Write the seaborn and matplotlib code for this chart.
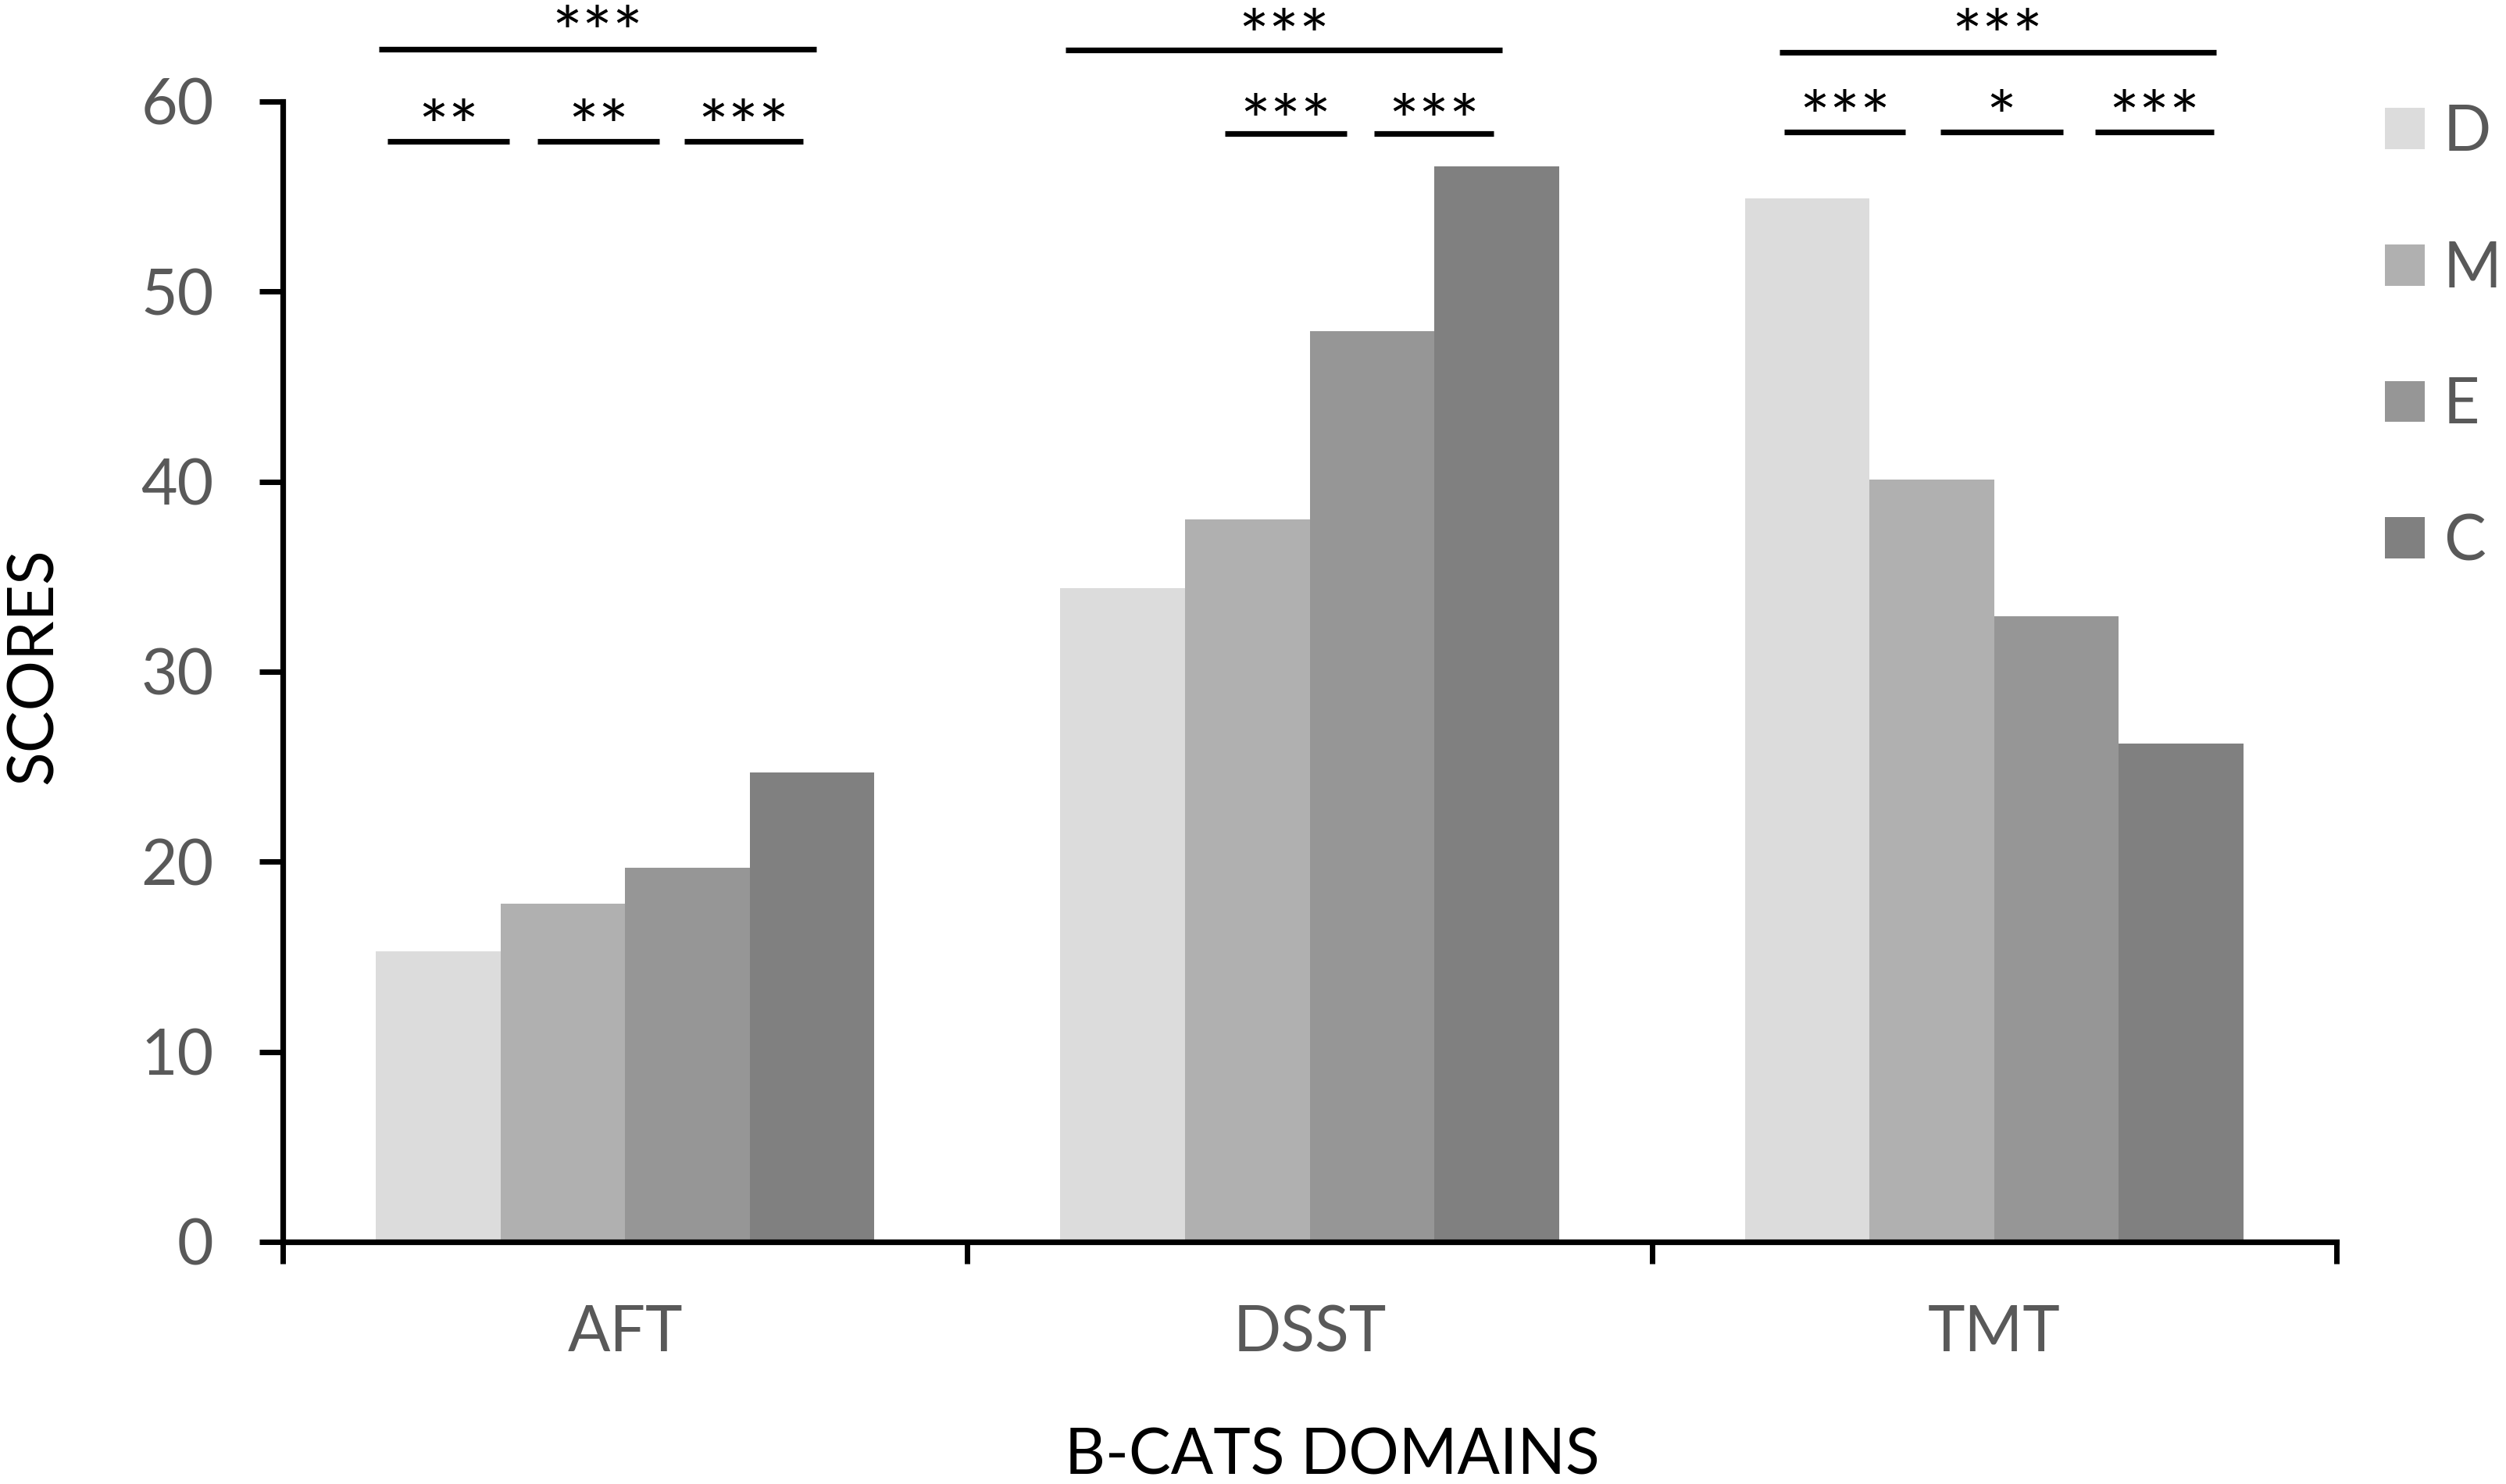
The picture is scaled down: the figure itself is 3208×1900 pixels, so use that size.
import matplotlib
matplotlib.use("Agg")
import matplotlib.pyplot as plt
import matplotlib.transforms as mtransforms
import seaborn as sns
import pandas as pd

# data
domains = ['AFT', 'DSST', 'TMT']
groups = ['D', 'M', 'E', 'C']
scores_D = [15.3, 34.4, 54.9]
scores_M = [17.8, 38.0, 40.1]
scores_E = [19.7, 47.9, 32.9]
scores_C = [24.7, 56.6, 26.2]
colors = ['#dcdcdc', '#b0b0b0', '#969696', '#808080']

# significance brackets: (domain index, left offset, right offset, line y, star y, stars)
sig_marks = [
    (0, -0.359, 0.279, 62.76, 64.45, '***'),
    (0, -0.347, -0.169, 57.9, 59.5, '**'),
    (0, -0.128, 0.050, 57.9, 59.5, '**'),
    (0, 0.087, 0.260, 57.9, 59.5, '***'),
    (1, -0.356, 0.281, 62.7, 64.3, '***'),
    (1, -0.124, 0.054, 58.3, 59.8, '***'),
    (1, 0.094, 0.269, 58.3, 59.8, '***'),
    (2, -0.314, 0.324, 62.6, 64.3, '***'),
    (2, -0.307, -0.130, 58.4, 60.0, '***'),
    (2, -0.079, 0.100, 58.4, 60.0, '*'),
    (2, 0.147, 0.321, 58.4, 60.0, '***'),
]

rows = []
for g, vals in zip(groups, [scores_D, scores_M, scores_E, scores_C]):
    for d, v in zip(domains, vals):
        rows.append({'domain': d, 'group': g, 'score': v})
df = pd.DataFrame(rows)

sns.set_style('ticks')
plt.rcParams['font.family'] = ['Lato', 'DejaVu Sans']

fs = 29
gray_txt = '#595959'

fig = plt.figure(figsize=(16.04, 9.5), dpi=200)
ax = fig.add_axes([0.1128, 0.1632, 0.8196, 0.7684])

sns.barplot(data=df, x='domain', y='score', hue='group', order=domains,
            hue_order=groups, palette=colors, width=0.728, saturation=1,
            errorbar=None, linewidth=0, ax=ax)

ax.set_xlim(-0.5, 2.5)
ax.set_ylim(0, 60)
ax.set_yticks(range(0, 61, 10))
ax.set_xticks([-0.5, 0.5, 1.5, 2.5], minor=True)

for side in ['top', 'right']:
    ax.spines[side].set_visible(False)
for side in ['left', 'bottom']:
    ax.spines[side].set_linewidth(2.6)
    ax.spines[side].set_color('black')

ax.tick_params(axis='y', which='major', length=10.8, width=2.5, color='black',
               labelsize=fs, labelcolor=gray_txt, pad=21, direction='out')
ax.tick_params(axis='x', which='major', length=0, labelsize=fs,
               labelcolor=gray_txt, pad=29)
ax.tick_params(axis='x', which='minor', length=10, width=2.5, color='black',
               direction='out')

ax.set_xlabel('B-CATS DOMAINS', fontsize=fs, color='black')
ax.set_ylabel('SCORES', fontsize=fs, color='black')
ax.xaxis.set_label_coords(0.511, -0.163)
ax.yaxis.set_label_coords(-0.107, 0.505)

# significance lines and stars
star_fs = 33
star_shift = mtransforms.ScaledTranslation(0, -0.57 * star_fs / 72, fig.dpi_scale_trans)
for d, x0, x1, ly, ty, stars in sig_marks:
    ax.plot([d + x0, d + x1], [ly, ly], color='black', lw=2.6,
            solid_capstyle='butt', clip_on=False)
    ax.text(d + (x0 + x1) / 2, ty, stars, ha='center', va='baseline',
            fontsize=star_fs, color='black',
            transform=ax.transData + star_shift, clip_on=False)

handles, labels = ax.get_legend_handles_labels()
ax.legend(handles, labels, loc='upper left', bbox_to_anchor=(0.9517, 0.930),
          bbox_transform=fig.transFigure, frameon=False, fontsize=fs,
          labelcolor=gray_txt, handlelength=0.63, handleheight=0.63,
          handletextpad=0.3, labelspacing=1.25, borderpad=0, borderaxespad=0)

fig.savefig('out.png', dpi=200)
